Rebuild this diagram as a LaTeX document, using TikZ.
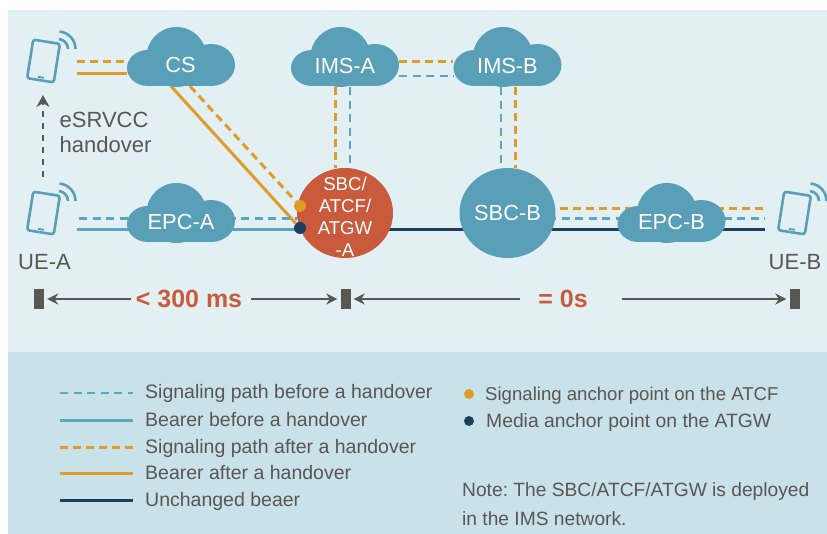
\documentclass[tikz,border=0pt]{standalone}
\usepackage{fontspec}
\setmainfont{Liberation Sans}
\usetikzlibrary{arrows.meta,backgrounds,shapes.geometric}

\definecolor{panelTop}{HTML}{E2F0F4}
\definecolor{panelLow}{HTML}{C9E1E8}
\definecolor{teal}{HTML}{5A9FB8}
\definecolor{lineBlue}{HTML}{5AA6C0}
\definecolor{lineOrange}{HTML}{E09C28}
\definecolor{lineNavy}{HTML}{1D3F5E}
\definecolor{hubRed}{HTML}{C95B3C}
\definecolor{inkGray}{HTML}{595654}

\tikzset{
    sigbefore/.style={lineBlue, line width=2.5pt, dash pattern=on 8pt off 5.5pt},
    sigafter/.style={lineOrange, line width=3pt, dash pattern=on 8pt off 5pt},
    bearerbefore/.style={lineBlue, line width=3pt},
    bearerafter/.style={lineOrange, line width=3pt},
    bearersame/.style={lineNavy, line width=3pt},
    cloudbox/.style={minimum width=108pt, minimum height=42pt, inner sep=0pt, text=white, font=\fontsize{21.8}{24}\selectfont},
    hubbox/.style={ellipse, minimum width=96pt, minimum height=90pt, inner sep=0pt},
    hubtext/.style={text=white, align=center, inner sep=0pt, font=\fontsize{18.6}{22}\selectfont},
    uelabel/.style={text=inkGray, align=left, inner sep=0pt, font=\fontsize{22}{25}\selectfont},
    tickbar/.style={fill=inkGray, minimum width=10pt, minimum height=20pt, inner sep=0pt},
    spanlabel/.style={text=hubRed, inner sep=0pt, font=\fontsize{25}{28}\selectfont\bfseries},
    spanarrow/.style={inkGray, line width=2.2pt, -{Stealth[length=11pt,width=11pt]}, shorten >=3pt},
    legendtext/.style={anchor=west, text=inkGray, inner sep=0pt, text height=14pt, text depth=4pt, font=\fontsize{19.5}{24}\selectfont},
    anchordot/.style={circle, minimum size=12pt, inner sep=0pt},
    cloudshape/.pic={
        \fill[teal] (-4.5,-11) circle (30pt);
        \fill[teal] (-33,0) ellipse [x radius=21pt, y radius=18pt];
        \fill[teal] (30,-3) ellipse [x radius=24pt, y radius=21pt];
        \fill[teal] (-33,-5) rectangle (30,18);
    },
    phoneshape/.pic={
        \draw[teal, line width=2.6pt, rounded corners=2.5pt, rotate=-9] (-13.5,-19.5) rectangle (13.5,19.5);
        \draw[teal, line width=1.8pt, rotate=-9] (-3,16.5) -- (3,16.5);
        \draw[teal, line width=2.6pt] (14.5,-12) ++(85:10pt) arc[start angle=85, end angle=0, radius=10pt];
        \draw[teal, line width=2.6pt] (14.5,-12) ++(85:17.5pt) arc[start angle=85, end angle=0, radius=17.5pt];
    }
}

\begin{document}
\frenchspacing
\begin{tikzpicture}[x=1pt, y=-1pt]
    \useasboundingbox (0,0) rectangle (827,534);

    % Panels
    \begin{scope}[on background layer]
        \fill[white] (0,0) rectangle (827,534);
        \fill[panelTop] (8,10) rectangle (827,352);
        \fill[panelLow] (8,352) rectangle (827,534);
    \end{scope}

    % Clouds
    \pic at (181,68) {cloudshape};
    \pic at (345,68) {cloudshape};
    \pic at (507.5,68) {cloudshape};
    \pic at (181,224) {cloudshape};
    \pic at (671.5,224) {cloudshape};
    \node[cloudbox] (cs) at (181,65) {\hspace{-1pt}CS};
    \node[cloudbox] (imsa) at (345,66) {IMS-A};
    \node[cloudbox] (imsb) at (507.5,66) {IMS-B};
    \node[cloudbox] (epca) at (181,222) {EPC-A};
    \node[cloudbox] (epcb) at (671.5,222) {EPC-B};

    % SBC circles
    \node[hubbox, fill=hubRed] (sbca) at (345,213) {};
    \node[hubtext] (sbcatext) at (345,216.5) {SBC/\\ATCF/\\ATGW\\-A};
    \node[hubbox, fill=teal, text=white, font=\fontsize{21.8}{24}\selectfont] (sbcb) at (507.5,213) {SBC-B};

    % Phones
    \pic at (43.5,61) {phoneshape};
    \pic at (43.5,213) {phoneshape};
    \pic at (794.5,213) {phoneshape};
    \coordinate (uetop) at (77,68);
    \coordinate (uea) at (77,224);
    \coordinate (ueb) at (765,224);
    \coordinate (turnfrom) at (43,177);
    \coordinate (turnto) at (43,95);

    % Anchor points
    \node[anchordot, fill=lineOrange] (sigdot) at (300,206) {};
    \node[anchordot, fill=lineNavy] (meddot) at (300,228) {};

    % Paths behind the clouds
    \begin{scope}[on background layer]
        \draw[sigafter] ([yshift=6pt]uetop) -- ([yshift=6pt]uetop -| cs.west);
        \draw[bearerafter] ([yshift=-6pt]uetop) -- ([yshift=-6pt]uetop -| cs.west);
        \draw[bearerafter] ([xshift=-10pt]cs.south) -- (meddot);
        \draw[sigafter] ([xshift=9pt]cs.south) -- (sigdot);
        \draw[sigbefore] ([yshift=5.5pt,xshift=2pt]uea) -- ([yshift=5.5pt]uea -| sbca.west);
        \draw[bearerbefore] ([yshift=-5.5pt]uea) -- ([yshift=-5.5pt]uea -| sbca.west);
        \draw[sigafter] ([xshift=-9.5pt]imsa.south) -- ([xshift=-9.5pt]sbca.north);
        \draw[sigbefore] ([xshift=5pt]imsa.south) -- ([xshift=5pt]sbca.north);
        \draw[sigafter] ([yshift=4pt]imsa.east) -- ([yshift=4pt]imsb.west);
        \draw[sigbefore] ([yshift=-10pt]imsa.east) -- ([yshift=-10pt]imsb.west);
        \draw[sigbefore] ([xshift=-6.5pt]imsb.south) -- ([xshift=-6.5pt]sbcb.north);
        \draw[sigafter] ([xshift=7.5pt]imsb.south) -- ([xshift=7.5pt]sbcb.north);
        \draw[bearersame] ([yshift=-5.5pt]uea -| sbca.center) -- ([yshift=-5.5pt]ueb);
        \draw[sigafter, line width=2.5pt] ([yshift=15.5pt]ueb -| sbcb.center) -- ([yshift=15.5pt]ueb);
        \draw[sigbefore] ([yshift=5.5pt]ueb -| sbcb.center) -- ([yshift=5.5pt]ueb);
    \end{scope}

    % Handover
    \draw[inkGray, line width=2pt, dash pattern=on 6pt off 6pt, -{Stealth[length=12pt,width=13pt]}] (turnfrom) -- (turnto);
    \node[uelabel] (turntext) at (105.5,132.5) {eSRVCC\\handover};
    \node[uelabel] (uealabel) at (44.5,262) {UE-A};
    \node[uelabel] (ueblabel) at (795,262) {UE-B};

    % Time spans
    \node[tickbar] (bar1) at (39,299) {};
    \node[tickbar] (bar2) at (345.5,299) {};
    \node[tickbar] (bar3) at (794.5,299) {};
    \node[spanlabel] (span1) at (189,299) {< 300 ms};
    \node[spanlabel] (span2) at (563,299) {= 0s};
    \draw[spanarrow] (span1.west) ++(-5,0) -- (bar1.east);
    \draw[spanarrow] (span1.east) ++(9,0) -- (bar2.west);
    \draw[spanarrow] (span2.west) ++(-18,0) -- (bar2.east);
    \draw[spanarrow] (span2.east) ++(34,0) -- (bar3.west);

    % Legend
    \foreach \row/\rowy/\rowstyle/\rowtext in {
        1/394/sigbefore/Signaling path before a handover,
        2/421/bearerbefore/Bearer before a handover,
        3/448/sigafter/Signaling path after a handover,
        4/474/bearerafter/Bearer after a handover,
        5/501/bearersame/Unchanged beaer}{
        \node[legendtext] (legend\row) at (145,\rowy) {\rowtext};
        \draw[\rowstyle] ([xshift=-85pt,yshift=1pt]legend\row.west) -- ([xshift=-12pt,yshift=1pt]legend\row.west);
    }
    \node[anchordot, minimum size=10pt, fill=lineOrange] (legenddot1) at (469,394) {};
    \node[anchordot, minimum size=10pt, fill=lineNavy] (legenddot2) at (469,421) {};
    \node[legendtext, font=\fontsize{18.6}{24}\selectfont] (legendsig) at (485,395) {Signaling anchor point on the ATCF};
    \node[legendtext, font=\fontsize{19.3}{24}\selectfont] (legendmed) at (486,422) {Media anchor point on the ATGW};

    % Note
    \node[legendtext, font=\fontsize{19.2}{24}\selectfont] (note1) at (462,491) {Note: The SBC/ATCF/ATGW is deployed};
    \node[legendtext, font=\fontsize{19.2}{24}\selectfont] (note2) at (462,520) {in the IMS network.};
\end{tikzpicture}
\end{document}
